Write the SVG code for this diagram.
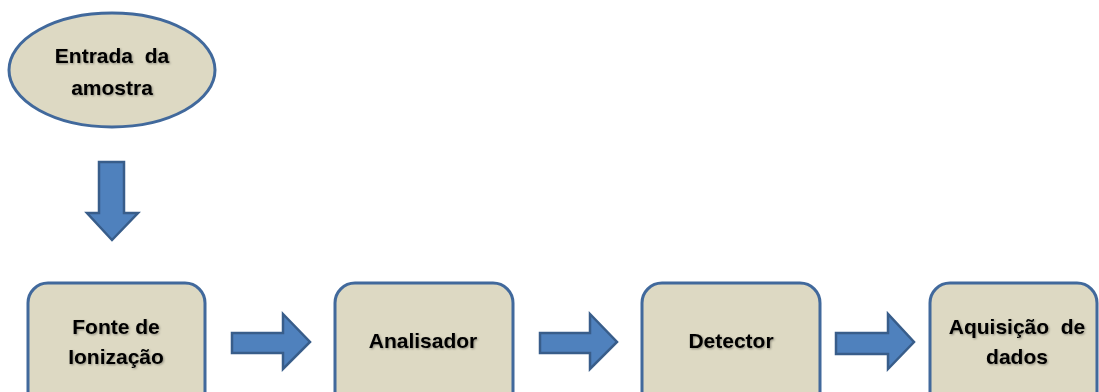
<svg xmlns="http://www.w3.org/2000/svg" width="1099" height="392" viewBox="0 0 1099 392">
<defs>
<filter id="sh" x="-10%" y="-10%" width="120%" height="130%"><feDropShadow dx="1" dy="1" stdDeviation="0.8" flood-color="#000" flood-opacity="0.35"/></filter>
</defs>
<style>
.node{fill:#ddd9c3;stroke:#41699c;stroke-width:3}
.arr{fill:#4f81bd;stroke:#385d8a;stroke-width:2.5;stroke-linejoin:miter}
.t{font-family:"Liberation Sans",Arial,sans-serif;font-weight:bold;font-size:21px;fill:#000;text-anchor:middle;filter:url(#sh)}
</style>
<rect width="1099" height="392" fill="#fff"/>
<g id="entrada">
<ellipse class="node" cx="112" cy="70" rx="103" ry="57"/>
<text class="t" x="112" y="63" xml:space="preserve">Entrada  da</text>
<text class="t" x="112" y="95">amostra</text>
</g>
<g id="fonte">
<rect class="node" x="28" y="283" width="177" height="130" rx="20"/>
<text class="t" x="116" y="334">Fonte de</text>
<text class="t" x="116" y="364">Ionização</text>
</g>
<g id="analisador">
<rect class="node" x="335" y="283" width="178" height="130" rx="20"/>
<text class="t" x="423" y="348">Analisador</text>
</g>
<g id="detector">
<rect class="node" x="642" y="283" width="178" height="130" rx="20"/>
<text class="t" x="731" y="348">Detector</text>
</g>
<g id="aquisicao">
<rect class="node" x="930" y="283" width="167" height="130" rx="20"/>
<text class="t" x="1017" y="334" xml:space="preserve">Aquisição  de</text>
<text class="t" x="1017" y="364">dados</text>
</g>
<g id="connectors">
<polygon class="arr" points="99,162 124,162 124,213 138,213 112,240 87,213 99,213"/>
<polygon class="arr" points="232,333 283,333 283,314 310,342 283,369 283,353 232,353"/>
<polygon class="arr" points="540,333 590,333 590,314 617,342 590,369 590,353 540,353"/>
<polygon class="arr" points="836,333 888,333 888,314 914,342 888,369 888,354 836,354"/>
</g>
</svg>
